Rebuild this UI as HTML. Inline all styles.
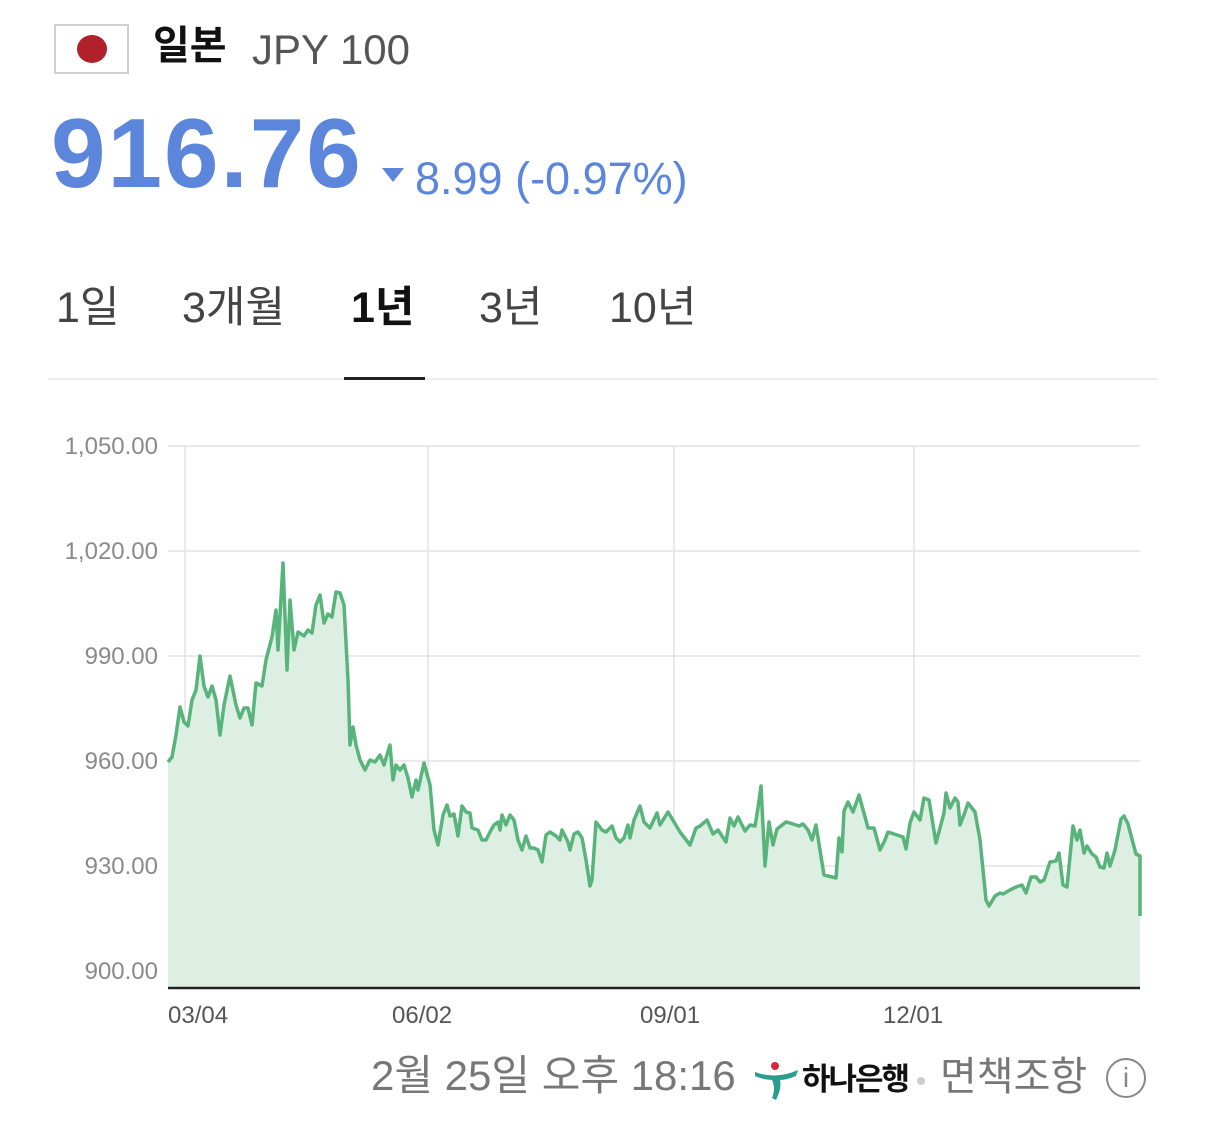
<!DOCTYPE html>
<html><head><meta charset="utf-8"><style>
body{margin:0;width:1206px;height:1140px;background:#fff;position:relative;overflow:hidden;font-family:"Liberation Sans","Noto Sans CJK KR",sans-serif}
.a{position:absolute;white-space:nowrap;line-height:1}
</style></head><body>
<div class="a" style="left:54px;top:24px;width:71px;height:46px;border:2px solid #cfcfcf"></div>
<div class="a" style="left:77px;top:35px;width:30px;height:28px;border-radius:50%;background:#b0212b"></div>
<div class="a" style="left:153px;top:26px;font-size:40px;font-weight:bold;color:#111">일본</div>
<div class="a" style="left:252px;top:29px;font-size:42px;color:#555">JPY 100</div>
<div class="a" style="left:51px;top:104px;font-size:98px;font-weight:bold;color:#5b86dc;letter-spacing:2px">916.76</div>
<svg class="a" style="left:382px;top:168px" width="22" height="16"><polygon points="0,0 22,0 11,14" fill="#5b86dc"/></svg>
<div class="a" style="left:415px;top:156px;font-size:45px;color:#5b86dc">8.99 (-0.97%)</div>
<div class="a" style="left:56px;top:287px;font-size:43px;color:#444">1일</div>
<div class="a" style="left:182px;top:287px;font-size:43px;color:#444">3개월</div>
<div class="a" style="left:351px;top:287px;font-size:43px;color:#111;font-weight:bold">1년</div>
<div class="a" style="left:479px;top:287px;font-size:43px;color:#444">3년</div>
<div class="a" style="left:609px;top:287px;font-size:43px;color:#444">10년</div>
<div class="a" style="left:48px;top:378px;width:1110px;height:2px;background:#eee"></div>
<div class="a" style="left:344px;top:377px;width:81px;height:3px;background:#222"></div>
<svg class="a" style="left:0;top:0" width="1206" height="1140">
<g stroke="#e3e3e3" stroke-width="1.5">
<line x1="168" y1="446" x2="1140" y2="446"/><line x1="168" y1="551" x2="1140" y2="551"/><line x1="168" y1="656" x2="1140" y2="656"/><line x1="168" y1="761" x2="1140" y2="761"/><line x1="168" y1="866" x2="1140" y2="866"/><line x1="168" y1="971" x2="1140" y2="971"/>
<line x1="185" y1="446" x2="185" y2="988"/><line x1="428" y1="446" x2="428" y2="988"/><line x1="674" y1="446" x2="674" y2="988"/><line x1="914" y1="446" x2="914" y2="988"/>
</g>
<g font-size="24" fill="#8a8a8a" text-anchor="end" font-family="Liberation Sans,sans-serif">
<text x="158" y="454">1,050.00</text><text x="158" y="559">1,020.00</text><text x="158" y="664">990.00</text><text x="158" y="769">960.00</text><text x="158" y="874">930.00</text><text x="158" y="979">900.00</text>
</g>
<g font-size="24" fill="#555" font-family="Liberation Sans,sans-serif">
<text x="168" y="1023">03/04</text><text x="392" y="1023">06/02</text><text x="640" y="1023">09/01</text><text x="883" y="1023">12/01</text>
</g>
<polygon id="f" fill="#dcefe2" points=""/>
<polyline id="l" fill="none" stroke="#58b47a" stroke-width="3.5" stroke-linejoin="round" points="168,762 172,757 176,735 180,707 184,722 188,726 192,700 196,690 200,656 204,686 208,697 212,686 216,700 220,735 224,705 230,676 236,705 240,718 244,708 248,708 252,725 256,683 262,686 266,660 272,637 276,610 278,650 283,563 287,670 290,600 294,650 298,632 304,636 308,630 312,633 316,605 320,595 324,623 328,614 332,617 336,592 340,593 344,605 348,680 350,745 353,727 356,745 360,760 365,770 370,760 375,762 380,755 384,765 386,758 390,745 393,780 396,765 400,770 404,765 408,778 412,797 416,780 418,790 424,763 430,785 434,830 438,845 443,815 447,805 450,816 454,814 458,836 462,806 466,812 470,813 472,828 478,830 482,840 486,840 490,832 494,825 498,822 500,830 502,815 506,825 510,815 514,820 518,840 522,850 526,836 530,848 534,848 538,850 542,862 546,835 550,832 556,836 560,840 562,830 568,842 570,850 574,834 578,832 582,838 586,860 590,886 592,880 596,822 602,830 606,832 612,826 616,838 620,842 624,838 628,825 630,838 634,820 640,806 644,822 650,828 657,813 660,825 668,812 680,832 690,845 696,828 700,826 707,820 713,834 718,830 726,842 730,818 734,826 738,817 745,831 750,825 755,826 758,808 761,786 765,866 769,822 773,845 777,829 786,822 790,823 799,826 803,824 808,830 812,840 816,825 824,875 832,877 836,878 839,838 842,852 844,811 848,802 853,812 859,795 868,828 874,828 880,850 885,840 888,832 903,837 906,849 910,823 914,812 920,820 924,798 929,800 936,843 944,813 946,793 950,808 955,798 958,802 960,825 965,812 968,803 975,812 980,840 986,900 989,906 995,896 1000,893 1003,894 1010,890 1016,887 1022,885 1026,893 1031,877 1036,877 1040,882 1044,880 1050,862 1056,861 1059,853 1063,885 1067,887 1073,826 1077,840 1080,830 1084,853 1087,846 1092,854 1096,857 1100,867 1104,868 1107,853 1110,866 1115,850 1121,819 1124,816 1128,824 1133,843 1136,854 1140,856 1140,916"/>
<line x1="168" y1="988" x2="1140" y2="988" stroke="#222" stroke-width="2.5"/>
</svg>
<script>
var p=document.getElementById('l').getAttribute('points');
document.getElementById('f').setAttribute('points',p+' 1140,988 168,988');
</script>
<div class="a" style="left:371px;top:1055px;font-size:42px;color:#777">2월 25일 오후 18:16</div>
<svg class="a" style="left:752px;top:1058px" width="50" height="46"><circle cx="23" cy="8" r="4" fill="#d7263d"/><path d="M3 14 Q24 22 46 12 L44 18 Q34 22 28 22 Q30 30 24 42 L20 40 Q24 30 20 22 Q12 22 3 18Z" fill="#2a9d8f"/></svg>
<div class="a" style="left:802px;top:1064px;font-size:31px;font-weight:bold;color:#111;letter-spacing:-2px">하나은행</div>
<div class="a" style="left:917px;top:1077px;width:8px;height:8px;border-radius:50%;background:#ccc"></div>
<div class="a" style="left:940px;top:1057px;font-size:40px;color:#777">면책조항</div>
<div class="a" style="left:1106px;top:1058px;width:40px;height:40px;border:2.5px solid #888;border-radius:50%;box-sizing:border-box;font-size:28px;color:#888;text-align:center;line-height:36px">i</div>
</body></html>
